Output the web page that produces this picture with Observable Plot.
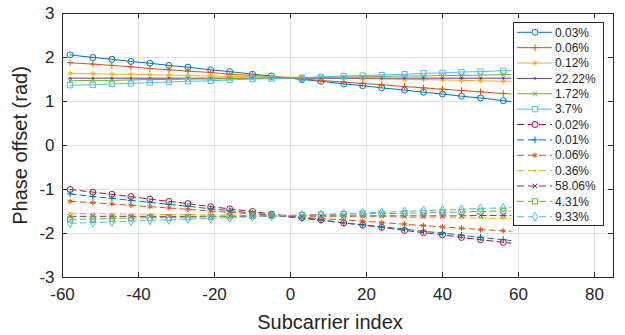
<!DOCTYPE html>
<html><head><meta charset="utf-8">
<script src="https://cdn.jsdelivr.net/npm/d3@7"></script>
<script src="https://cdn.jsdelivr.net/npm/@observablehq/plot@0.6"></script>
<style>
body{margin:0;background:#fff;}
#wrap{position:relative;width:625px;height:335px;font-family:"Liberation Sans",Arial,Helvetica,sans-serif;}
#wrap svg{display:block;}
#legend{position:absolute;left:0;top:0;}
</style></head><body><div id="wrap"></div>
<script>
// ---- data ----
const subcarrier = [-58,-52,-47,-42,-37,-32,-27,-21,-16,-10,-5,3,8,14,19,24,30,35,40,45,50,56,58];
const xTicks = [-60,-40,-20,0,20,40,60,80];
const yTicks = [-3,-2,-1,0,1,2,3];
const labels = ["0.03%","0.06%","0.12%","22.22%","1.72%","3.7%","0.02%","0.01%","0.06%","0.36%","58.06%","4.31%","9.33%"];

const sBlue   = [2.06,2.00,1.96,1.91,1.87,1.82,1.78,1.72,1.68,1.62,1.58,1.50,1.46,1.40,1.36,1.31,1.26,1.21,1.17,1.12,1.08,1.02,1.00];
const sOrange = [1.88,1.85,1.82,1.79,1.75,1.72,1.69,1.66,1.62,1.59,1.56,1.51,1.48,1.44,1.41,1.38,1.34,1.31,1.28,1.25,1.22,1.18,1.17];
const sYellow = [1.64,1.63,1.62,1.62,1.61,1.60,1.59,1.58,1.57,1.57,1.56,1.55,1.54,1.53,1.52,1.51,1.50,1.50,1.49,1.48,1.47,1.46,1.46];
const sPurple = [1.53,1.53,1.53,1.53,1.53,1.53,1.53,1.53,1.53,1.53,1.53,1.53,1.53,1.53,1.53,1.53,1.53,1.53,1.53,1.53,1.53,1.53,1.53];
const sGreen  = [1.47,1.48,1.48,1.49,1.50,1.50,1.51,1.51,1.52,1.53,1.53,1.54,1.55,1.56,1.56,1.57,1.58,1.58,1.59,1.59,1.60,1.61,1.61];
const sCyan   = [1.37,1.38,1.40,1.41,1.43,1.44,1.46,1.47,1.49,1.51,1.52,1.54,1.56,1.58,1.59,1.60,1.62,1.64,1.65,1.67,1.68,1.70,1.70];
const dRed    = [-1.00,-1.06,-1.11,-1.16,-1.22,-1.27,-1.32,-1.39,-1.44,-1.50,-1.56,-1.64,-1.69,-1.76,-1.81,-1.86,-1.93,-1.98,-2.03,-2.09,-2.14,-2.20,-2.22];
const dBlue   = [-1.10,-1.16,-1.20,-1.25,-1.29,-1.34,-1.38,-1.44,-1.48,-1.54,-1.58,-1.66,-1.70,-1.76,-1.80,-1.85,-1.90,-1.95,-1.99,-2.04,-2.09,-2.14,-2.16];
const dOrange = [-1.27,-1.30,-1.33,-1.36,-1.39,-1.42,-1.45,-1.49,-1.52,-1.55,-1.58,-1.63,-1.66,-1.69,-1.72,-1.75,-1.79,-1.82,-1.85,-1.88,-1.91,-1.94,-1.95];
const dYellow = [-1.54,-1.55,-1.55,-1.56,-1.56,-1.57,-1.57,-1.58,-1.58,-1.59,-1.60,-1.60,-1.61,-1.61,-1.62,-1.62,-1.63,-1.64,-1.64,-1.65,-1.65,-1.66,-1.66];
const dPurple = [-1.61,-1.61,-1.61,-1.61,-1.61,-1.61,-1.61,-1.61,-1.61,-1.61,-1.61,-1.60,-1.60,-1.60,-1.60,-1.60,-1.60,-1.60,-1.60,-1.60,-1.59,-1.59,-1.59];
const dGreen  = [-1.68,-1.67,-1.66,-1.65,-1.64,-1.64,-1.63,-1.62,-1.61,-1.60,-1.59,-1.58,-1.57,-1.56,-1.55,-1.55,-1.54,-1.53,-1.52,-1.51,-1.50,-1.49,-1.49];
const dCyan   = [-1.77,-1.75,-1.74,-1.72,-1.70,-1.69,-1.67,-1.66,-1.64,-1.62,-1.61,-1.58,-1.57,-1.55,-1.53,-1.52,-1.50,-1.48,-1.47,-1.45,-1.43,-1.42,-1.41];
const markerCount = 22; // markers on the first 22 points, line extends to last point

// ---- styles ----
const C = {blue:"#0072BD", orange:"#D95319", yellow:"#EDB120", purple:"#7E2F8E", green:"#77AC30", cyan:"#4DBEEE", red:"#A2142F"};
const seriesValues = [sBlue,sOrange,sYellow,sPurple,sGreen,sCyan,dRed,dBlue,dOrange,dYellow,dPurple,dGreen,dCyan];
const styles = [
  {color:C.blue,   sym:"circle",   r:3.0, dash:null},
  {color:C.orange, sym:"plus",     r:2.3, dash:null},
  {color:C.yellow, sym:"asterisk", r:2.6, dash:null},
  {color:C.purple, sym:"point",    r:1.2, dash:null},
  {color:C.green,  sym:"times",    r:2.3, dash:null},
  {color:C.cyan,   sym:"square",   r:3.0, dash:null},
  {color:C.red,    sym:"circle",   r:3.0, dash:"6,4"},
  {color:C.blue,   sym:"plus",     r:2.3, dash:"6,4"},
  {color:C.orange, sym:"asterisk", r:2.6, dash:"6,4"},
  {color:C.yellow, sym:"point",    r:1.2, dash:"6,4"},
  {color:C.purple, sym:"times",    r:2.3, dash:"6,4"},
  {color:C.green,  sym:"square",   r:3.0, dash:"6,4"},
  {color:C.cyan,   sym:"diamond",  r:2.7, dash:"6,4"}
];

const W=625,H=335,mL=62,mR=12,mT=13,mB=58;
const pw=W-mL-mR, ph=H-mT-mB;
const axisColor="#262626", gridColor="#e2e2e2";

const marks=[
  Plot.gridX(xTicks,{stroke:gridColor,strokeOpacity:1}),
  Plot.gridY(yTicks,{stroke:gridColor,strokeOpacity:1})
];
seriesValues.forEach((vals,i)=>{
  const st=styles[i];
  const rows=subcarrier.map((x,j)=>({x,y:vals[j],j}));
  marks.push(Plot.line(rows,{x:"x",y:"y",stroke:st.color,strokeWidth:1,strokeDasharray:st.dash||undefined}));
  const mrows=rows.filter(d=>d.j<markerCount);
  if(st.sym==="point"){
    marks.push(Plot.dot(mrows,{x:"x",y:"y",r:st.r,fill:st.color,stroke:"none"}));
  } else {
    marks.push(Plot.dot(mrows,{x:"x",y:"y",r:st.r,symbol:st.sym,stroke:st.color,fill:"none",strokeWidth:1}));
  }
});
marks.push(
  Plot.frame({stroke:axisColor}),
  Plot.tickX(xTicks,{x:d=>d,stroke:axisColor,insetTop:ph-5}),
  Plot.tickX(xTicks,{x:d=>d,stroke:axisColor,insetBottom:ph-5}),
  Plot.tickY(yTicks,{y:d=>d,stroke:axisColor,insetRight:pw-5}),
  Plot.tickY(yTicks,{y:d=>d,stroke:axisColor,insetLeft:pw-5}),
  Plot.axisX(xTicks,{tickSize:0,tickPadding:10,tickFormat:d=>String(d),fontSize:17,label:null,fill:axisColor}),
  Plot.axisY(yTicks,{tickSize:0,tickPadding:8,tickFormat:d=>String(d),fontSize:17,label:null,fill:axisColor}),
  Plot.text(["Subcarrier index"],{frameAnchor:"bottom",dx:-8,dy:45,lineAnchor:"middle",textAnchor:"middle",fontSize:20,fill:axisColor,text:d=>d}),
  Plot.text(["Phase offset (rad)"],{frameAnchor:"left",dx:-42,rotate:-90,lineAnchor:"middle",textAnchor:"middle",fontSize:20,fill:axisColor,text:d=>d})
);

const chart=Plot.plot({
  width:W,height:H,marginLeft:mL,marginRight:mR,marginTop:mT,marginBottom:mB,
  style:{fontFamily:'"Liberation Sans",Arial,Helvetica,sans-serif',background:"#fff"},
  x:{domain:[-60,85]},
  y:{domain:[-3,3]},
  marks
});
const wrap=document.getElementById("wrap");
wrap.appendChild(chart);

// ---- legend overlay ----
const symMap={circle:d3.symbolCircle,plus:d3.symbolPlus,asterisk:d3.symbolAsterisk,times:d3.symbolTimes,square:d3.symbolSquare,diamond:d3.symbolDiamond};
const lx=513, ly=22, lw=90, lh=203, step=15.37, y0=32.3;
const lg=d3.select(wrap).append("svg").attr("id","legend").attr("width",W).attr("height",H)
  .style("pointer-events","none");
lg.append("rect").attr("x",lx+0.5).attr("y",ly+0.5).attr("width",lw).attr("height",lh)
  .attr("fill","#fff").attr("stroke",axisColor).attr("stroke-width",1);
labels.forEach((lab,i)=>{
  const st=styles[i], yy=y0+step*i;
  const g=lg.append("g");
  g.append("line").attr("x1",517).attr("x2",552).attr("y1",yy).attr("y2",yy)
    .attr("stroke",st.color).attr("stroke-width",1).attr("stroke-dasharray",st.dash?"7,4":null);
  if(st.sym==="point"){
    g.append("circle").attr("cx",535).attr("cy",yy).attr("r",st.r).attr("fill",st.color);
  } else {
    g.append("path").attr("transform",`translate(535,${yy})`)
      .attr("d",d3.symbol().type(symMap[st.sym]).size(Math.PI*st.r*st.r)())
      .attr("fill",st.sym==="circle"||st.sym==="square"||st.sym==="diamond"?"#fff":"none")
      .attr("stroke",st.color).attr("stroke-width",1);
  }
  g.append("text").attr("x",555).attr("y",yy).attr("dy","0.35em").attr("font-size",12)
    .attr("fill",axisColor).attr("font-family",'"Liberation Sans",Arial,sans-serif').text(lab);
});
</script></body></html>
